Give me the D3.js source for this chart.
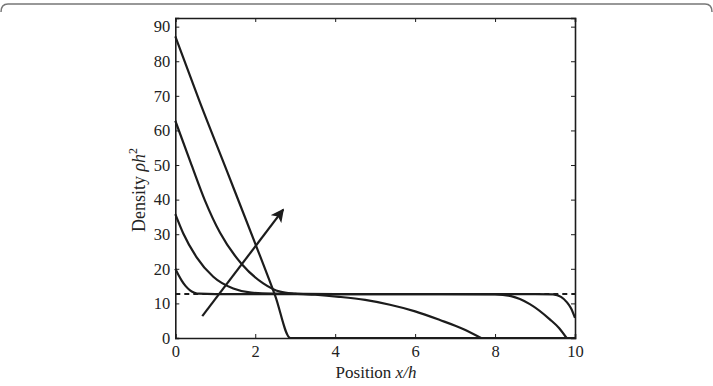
<!DOCTYPE html>
<html>
<head>
<meta charset="utf-8">
<script src="https://cdn.jsdelivr.net/npm/d3@7"></script>
<style>
  body { margin: 0; background: #fff; }
  svg text { font-family: "Liberation Serif", "DejaVu Serif", serif; fill: #222; }
</style>
</head>
<body>
<svg id="chart" width="713" height="386"></svg>
<script>
// density profiles (x/h, rho h^2)
const curve1_x = [0, 0.08, 0.16, 0.26, 0.37, 0.48, 0.6, 1, 3, 6, 9, 9.45, 9.65, 9.8, 9.9, 10];
const curve1_y = [20, 18.2, 16.6, 15, 13.8, 13.1, 12.8, 12.7, 12.7, 12.7, 12.7, 12.6, 11.9, 10.3, 8.6, 5.8];
const curve2_x = [0, 0.2, 0.53, 0.95, 1.45, 1.9, 2.4, 4, 6, 8, 8.4, 8.87, 9.37, 9.6, 9.79];
const curve2_y = [35.8, 30.2, 23.4, 17.7, 14.3, 13.1, 12.8, 12.7, 12.7, 12.6, 12.1, 9.8, 5.4, 2.9, 0];
const curve3_x = [0, 0.41, 0.74, 1.12, 1.66, 2.2, 2.62, 3, 3.5, 4.1, 4.75, 5.37, 6, 6.62, 7.2, 7.65];
const curve3_y = [62.8, 49.9, 39.8, 30.4, 21.4, 15.8, 13.4, 12.8, 12.5, 11.9, 11, 9.6, 7.7, 5.2, 2.6, 0];
const curve4_x = [0, 0.6, 1.3, 2.0, 2.5, 2.88, 5, 7.5, 10];
const curve4_y = [87.2, 68.6, 48, 27.3, 12.2, 0, 0, 0, 0];

const limit_y = 12.7;                // dashed reference level
const arrow_from = [0.675, 6.3];
const arrow_to = [2.7, 37.1];

const x_ticks = [0, 2, 4, 6, 8, 10];
const y_ticks = [0, 10, 20, 30, 40, 50, 60, 70, 80, 90];

const svg = d3.select("#chart");
const ink = "#1c1c1c";

// outer rounded frame, only the top edge is in view
svg.append("path")
  .attr("d", "M1,12 Q1,4 8,4 L705,4 Q712,4 712,12")
  .attr("fill", "none").attr("stroke", "#777").attr("stroke-width", 1.5);

const x = d3.scaleLinear().domain([0, 10]).range([175.3, 575]);
const y = d3.scaleLinear().domain([0, 92.5]).range([338, 18]);

const series = [
  [curve1_x, curve1_y],
  [curve2_x, curve2_y],
  [curve3_x, curve3_y],
  [curve4_x, curve4_y]
].map(([xs, ys]) => xs.map((v, i) => [v, ys[i]]));

const line = d3.line()
  .x(d => x(d[0])).y(d => y(d[1]))
  .curve(d3.curveMonotoneX);

// dashed limit first, curves drawn over it
svg.append("line")
  .attr("x1", x(0)).attr("x2", x(10))
  .attr("y1", y(limit_y)).attr("y2", y(limit_y))
  .attr("stroke", ink).attr("stroke-width", 2)
  .attr("stroke-dasharray", "5,4");

svg.selectAll(".curve")
  .data(series)
  .enter()
  .append("path")
  .attr("class", "curve")
  .attr("d", line)
  .attr("fill", "none")
  .attr("stroke", ink)
  .attr("stroke-width", 2.2);

// arrow
svg.append("defs").append("marker")
  .attr("id", "head")
  .attr("viewBox", "0 0 10 10")
  .attr("refX", 9).attr("refY", 5)
  .attr("markerWidth", 6).attr("markerHeight", 6)
  .attr("markerUnits", "strokeWidth")
  .attr("orient", "auto")
  .append("path")
  .attr("d", "M0,0 L10,5 L0,10 L2.5,5 Z")
  .attr("fill", ink);

svg.append("line")
  .attr("x1", x(arrow_from[0])).attr("y1", y(arrow_from[1]))
  .attr("x2", x(arrow_to[0])).attr("y2", y(arrow_to[1]))
  .attr("stroke", ink).attr("stroke-width", 2.2)
  .attr("marker-end", "url(#head)");

// box axes, ticks pointing inward
const bottom = svg.append("g").attr("transform", "translate(0," + y(0) + ")")
  .call(d3.axisBottom(x).tickValues(x_ticks).tickSize(-4).tickPadding(7));
const top_ax = svg.append("g").attr("transform", "translate(0," + y(92.5) + ")")
  .call(d3.axisTop(x).tickValues(x_ticks).tickSize(-4).tickFormat(""));
const left = svg.append("g").attr("transform", "translate(" + x(0) + ",0)")
  .call(d3.axisLeft(y).tickValues(y_ticks).tickSize(-4).tickPadding(5));
const right = svg.append("g").attr("transform", "translate(" + x(10) + ",0)")
  .call(d3.axisRight(y).tickValues(y_ticks).tickSize(-4).tickFormat(""));

[bottom, top_ax, left, right].forEach(g => {
  g.select(".domain").attr("stroke", ink).attr("stroke-width", 1.6);
  g.selectAll(".tick line").attr("stroke", ink).attr("stroke-width", 1);
  g.selectAll(".tick text")
    .attr("font-family", "Liberation Serif, serif")
    .attr("font-size", 16.5).attr("fill", "#222");
});

// axis titles
const xt = svg.append("text")
  .attr("x", 376).attr("y", 378)
  .attr("text-anchor", "middle").attr("font-size", 17);
xt.append("tspan").text("Position ");
xt.append("tspan").attr("font-style", "italic").text("x/h");

const yt = svg.append("text")
  .attr("transform", "translate(145,190) rotate(-90)")
  .attr("text-anchor", "middle").attr("font-size", 18);
yt.append("tspan").text("Density ");
yt.append("tspan").attr("font-style", "italic").text("ρh");
yt.append("tspan").attr("font-size", 12).attr("dy", -8).text("2");
</script>
</body>
</html>
